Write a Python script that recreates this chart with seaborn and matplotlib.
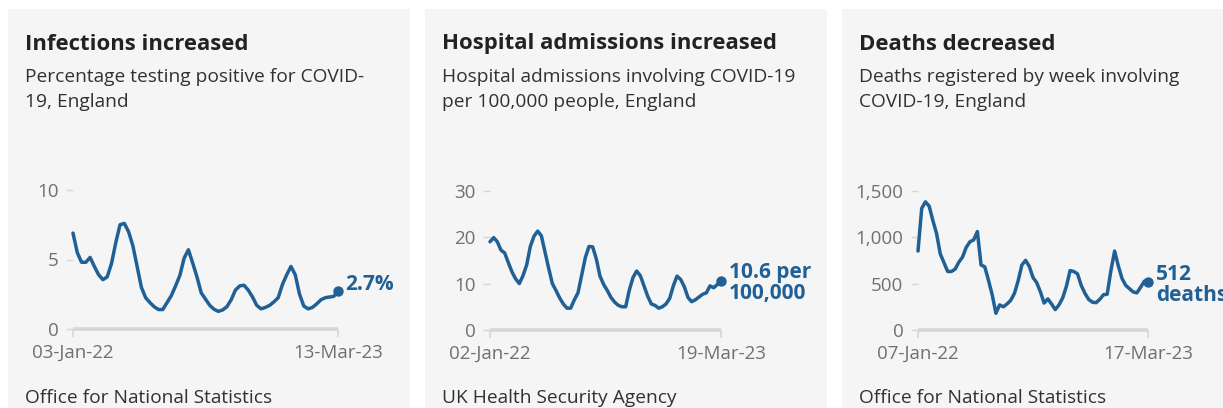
import numpy as np
import pandas as pd
import matplotlib
matplotlib.use("Agg")
import matplotlib.pyplot as plt
from matplotlib.patches import Rectangle
import seaborn as sns

sns.set_theme(style="white")
plt.rcParams["font.family"] = ["Open Sans", "DejaVu Sans"]

# ---- data -------------------------------------------------------------
titles = ["Infections increased", "Hospital admissions increased", "Deaths decreased"]
subtitles = [
    "Percentage testing positive for COVID-\n19, England",
    "Hospital admissions involving COVID-19\nper 100,000 people, England",
    "Deaths registered by week involving\nCOVID-19, England",
]
sources = ["Office for National Statistics", "UK Health Security Agency",
           "Office for National Statistics"]

infection_start = "2022-01-03"
infection_pct = [6.9, 5.5, 4.8, 4.8, 5.15, 4.5, 3.9, 3.55, 3.75, 4.7,
                 6.2, 7.5, 7.6, 7.0, 6.0, 4.5, 3.0, 2.25, 1.9, 1.6,
                 1.4, 1.4, 1.9, 2.4, 3.1, 3.85, 5.1, 5.7, 4.75, 3.75,
                 2.6, 2.15, 1.7, 1.42, 1.27, 1.37, 1.6, 2.1, 2.8, 3.1,
                 3.15, 2.8, 2.3, 1.7, 1.45, 1.55, 1.7, 1.95, 2.25, 3.2,
                 3.9, 4.5, 3.9, 2.5, 1.65, 1.45, 1.55, 1.8, 2.1, 2.25,
                 2.3, 2.35, 2.7]

admission_start = "2022-01-02"
admission_rate = [19.0, 19.9, 19.0, 17.2, 16.6, 14.5, 12.5, 11.0, 10.0, 11.7,
                  14.0, 18.0, 20.2, 21.3, 20.3, 16.8, 13.3, 10.0, 8.5, 6.9,
                  5.6, 4.7, 4.7, 6.5, 8.0, 11.8, 15.6, 18.0, 17.9, 15.3,
                  11.6, 9.8, 8.5, 7.0, 6.0, 5.3, 5.0, 5.0, 8.6, 11.3,
                  12.7, 11.7, 9.5, 7.3, 5.6, 5.3, 4.7, 5.0, 5.6, 6.8,
                  9.5, 11.6, 10.9, 9.3, 7.0, 6.1, 6.5, 7.1, 7.7, 8.0,
                  9.5, 9.1, 9.8, 10.6]

death_start = "2022-01-07"
death_count = [850, 1310, 1380, 1335, 1180, 1040, 820, 725, 630, 630,
               655, 730, 785, 890, 950, 970, 1060, 700, 680, 535,
               380, 180, 270, 250, 280, 320, 395, 530, 700, 750,
               685, 565, 510, 410, 290, 335, 280, 220, 270, 345,
               470, 640, 630, 605, 480, 395, 330, 300, 294, 330,
               380, 385, 640, 850, 690, 555, 480, 445, 410, 400,
               460, 525, 512]

y_ticks = [[0, 5, 10], [0, 10, 20, 30], [0, 500, 1000, 1500]]
y_tick_labels = [["0", "5", "10"], ["0", "10", "20", "30"],
                 ["0", "500", "1,000", "1,500"]]
end_labels = ["2.7%", "10.6 per\n100,000", "512\ndeaths"]

series = [
    (infection_start, infection_pct),
    (admission_start, admission_rate),
    (death_start, death_count),
]

# ---- layout (pixels) --------------------------------------------------
W, H = 1223, 408
BLUE = "#206095"
GREY_TXT = "#707071"
GREY_LINE = "#d6d6d6"
PANEL_BG = "#f5f5f5"

panel_boxes = [(8, 410), (425, 827), (842, 1244)]
text_x = [25, 442, 859]
axes_px = [(73, 338, 190, 329), (490, 721, 190.7, 330), (918, 1148, 190.7, 330)]
label_offsets = [(5.5, 5), (5.5, -1.5), (5.5, -1.5)]

fig = plt.figure(figsize=(W / 100, H / 100), dpi=100)
fig.patch.set_facecolor("white")


def fx(px):
    return px / W


def fy(py):
    return 1 - py / H


for i in range(3):
    x0, x1 = panel_boxes[i]
    fig.patches.append(Rectangle((fx(x0), 0), fx(x1 - x0), fy(9),
                                 transform=fig.transFigure,
                                 facecolor=PANEL_BG, edgecolor="none", zorder=-5))

    fig.text(fx(text_x[i]), fy(44), titles[i], fontsize=15.9, fontweight="bold",
             color="#222222", va="center", ha="left")
    fig.text(fx(text_x[i]), fy(89.5), subtitles[i], fontsize=13.8, color="#323132",
             va="center", ha="left", linespacing=1.45)
    fig.text(fx(text_x[i]), fy(398), sources[i], fontsize=13.8, color="#323132",
             va="center", ha="left")

    ax0, ax1, ay0, ay1 = axes_px[i]
    ax = fig.add_axes([fx(ax0), fy(ay1), fx(ax1 - ax0), (ay1 - ay0) / H])
    ax.set_facecolor("none")
    ax.set_zorder(2)

    start, vals = series[i]
    dates = pd.date_range(start, periods=len(vals), freq="7D")
    df = pd.DataFrame({"date": dates, "value": vals})

    sns.lineplot(data=df, x="date", y="value", ax=ax, color=BLUE,
                 linewidth=2.5, clip_on=False, zorder=3)
    ax.scatter([dates[-1]], [vals[-1]], s=42, color=BLUE, zorder=4, clip_on=False)

    ax.set_xlim(dates[0], dates[-1])
    ax.set_ylim(y_ticks[i][0], y_ticks[i][-1])
    ax.set_xlabel("")
    ax.set_ylabel("")

    ax.set_yticks(y_ticks[i])
    ax.set_yticklabels(y_tick_labels[i])
    ax.set_xticks([dates[0], dates[-1]])
    ax.set_xticklabels([d.strftime("%d-%b-%y") for d in (dates[0], dates[-1])])

    for side in ("top", "right", "left"):
        ax.spines[side].set_visible(False)
    ax.spines["bottom"].set_color(GREY_LINE)
    ax.spines["bottom"].set_linewidth(2.6)
    ax.spines["bottom"].set_capstyle("butt")

    ax.tick_params(axis="y", length=5, width=1, color=GREY_LINE, pad=5.5,
                   labelsize=13.5, labelcolor=GREY_TXT, left=True)
    ax.tick_params(axis="x", length=6, width=1.2, color=GREY_LINE, pad=4.5,
                   labelsize=13.5, labelcolor=GREY_TXT, bottom=True)
    ax.grid(False)

    ax.annotate(end_labels[i], xy=(dates[-1], vals[-1]), xytext=label_offsets[i],
                textcoords="offset points", ha="left", va="center",
                fontsize=15.0, fontweight="bold", color=BLUE,
                linespacing=1.0, annotation_clip=False)

fig.savefig("out.png", dpi=100, facecolor=fig.get_facecolor())
